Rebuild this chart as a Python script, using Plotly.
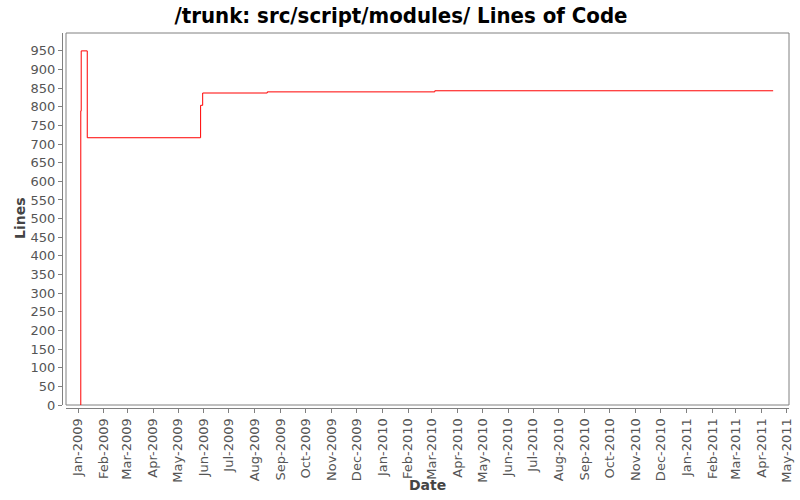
import plotly.graph_objects as go

# Commit dates and lines of code (step series)
dates = [
    "2009-01-04 00:00", "2009-01-04 06:00", "2009-01-04 18:00",
    "2009-01-12 00:00", "2009-05-28 00:00", "2009-05-30 12:00",
    "2009-08-16 00:00", "2010-03-05 00:00", "2011-04-15 00:00",
]
lines = [0, 789, 950, 717, 804, 837, 840, 843, 843]

x_range = ["2008-12-17 12:00", "2011-05-04"]
y_range = [0, 998]

W, H = 800, 500
L, R, T, B = 62, 11, 33, 92
PW, PH = W - L - R, H - T - B


def px(x):
    return (x - L) / PW


def py(y):
    return (H - B - y) / PH


fig = go.Figure()
fig.add_trace(go.Scatter(
    x=dates, y=lines, mode="lines",
    line=dict(color="#ff0000", width=1, shape="hv"),
    showlegend=False, hoverinfo="skip",
))

axis_col = "#808080"
tick_font = dict(family="DejaVu Sans", size=13, color="#555555")
label_font = dict(family="DejaVu Sans", size=14, color="#444444", weight="bold")

fig.update_layout(
    width=W, height=H,
    margin=dict(l=L, r=R, t=T, b=B),
    paper_bgcolor="white", plot_bgcolor="white",
    title=dict(
        text="/trunk: src/script/modules/ Lines of Code",
        x=401 / W, xanchor="center", y=1 - 15 / H, yanchor="middle",
        font=dict(family="DejaVu Sans Condensed", size=22, color="#000000", weight="bold"),
    ),
    xaxis=dict(
        domain=[4 / PW, 1], range=x_range, type="date", automargin=False,
        tick0="2009-01-01", dtick="M1", tickformat="%b-%Y",
        tickangle=-90, tickfont=tick_font,
        ticks="outside", ticklen=4, tickcolor=axis_col, tickwidth=1,
        showgrid=False, zeroline=False,
        showline=True, linecolor=axis_col, linewidth=1,
        anchor="free", position=0,
    ),
    yaxis=dict(
        domain=[3 / PH, 1], range=y_range, automargin=False,
        tick0=0, dtick=50, tickfont=tick_font,
        ticks="outside", ticklen=4, tickcolor=axis_col, tickwidth=1,
        showgrid=False, zeroline=False,
        showline=True, linecolor=axis_col, linewidth=1,
        anchor="free", position=0,
    ),
    shapes=[dict(
        type="rect", xref="x domain", yref="y domain",
        x0=0, x1=1, y0=0, y1=1,
        line=dict(color=axis_col, width=1), fillcolor="rgba(0,0,0,0)", layer="below",
    )],
    annotations=[
        dict(text="Date", xref="paper", yref="paper", x=px(427), y=py(485),
             xanchor="center", yanchor="middle", showarrow=False, font=label_font),
        dict(text="Lines", xref="paper", yref="paper", x=px(20), y=py(218),
             xanchor="center", yanchor="middle", textangle=-90, showarrow=False, font=label_font),
    ],
)

# remove the default 8px page margin so the 800x500 figure fills the window
fig.write_html("out.html", config={"displayModeBar": False},
               post_script="document.body.style.margin='0';")
